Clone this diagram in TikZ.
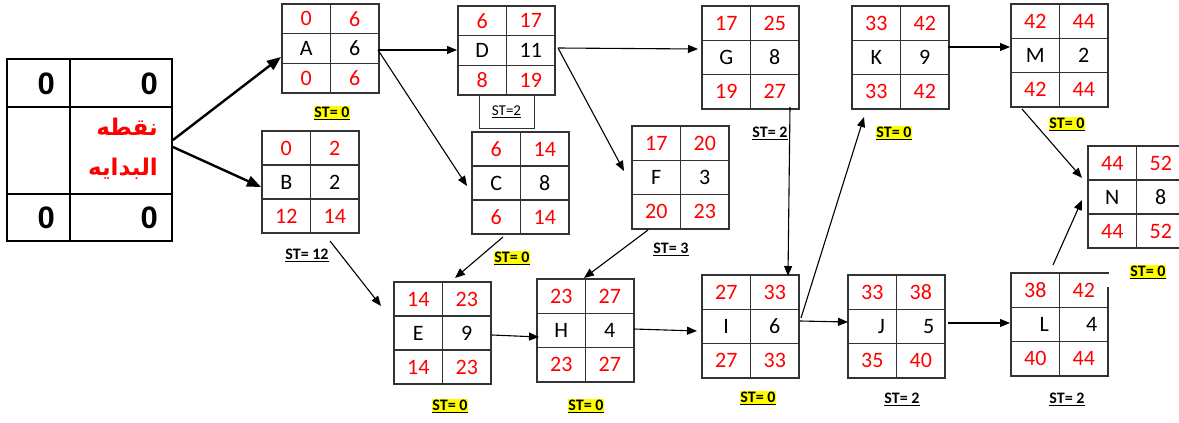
\documentclass[tikz,border=0pt]{standalone}
\usepackage{fontspec}
\setmainfont{Carlito}
\newfontfamily\arabicfont[Script=Arabic]{DejaVu Sans}
\newfontfamily\zerofont{Liberation Sans}
\TeXXeTstate=1
\usetikzlibrary{calc,arrows.meta}
\definecolor{hired}{RGB}{255,0,0}
\definecolor{hiyellow}{RGB}{255,255,0}
\tikzset{
  boxframe/.style={draw=black!80, line width=1.3pt, inner sep=0pt, outer sep=0pt, minimum width=97pt, anchor=north west},
  gridln/.style={draw=black!80, line width=1.2pt},
  num/.style={text=hired, font=\fontsize{22}{26}\selectfont, inner sep=0pt},
  lab/.style={text=black, font=\fontsize{22}{26}\selectfont, inner sep=0pt},
  conn/.style={draw=black, line width=1.1pt, -{Triangle[length=10pt,width=8pt]}},
  bigconn/.style={draw=black, line width=2.4pt, -{Triangle[length=14pt,width=11pt]}},
  stlab/.style={font=\bfseries\fontsize{16}{18}\selectfont, inner sep=0.6pt},
  sthi/.style={stlab, fill=hiyellow},
  zero/.style={font=\zerofont\bfseries\fontsize{31}{33}\selectfont, inner sep=0pt, anchor=east},
  arab/.style={font=\arabicfont\bfseries\fontsize{23}{26}\selectfont, text=hired, inner sep=0pt, anchor=east},
}
% #1 name, #2 top-left, #3 height, #4..#9 cell texts
\newcommand\abox[9]{%
  \node[boxframe, minimum height=#3pt] (#1) at (#2) {};
  \draw[gridln] (#1.north) -- (#1.south);
  \draw[gridln] ($(#1.north west)!1/3!(#1.south west)$) -- ($(#1.north east)!1/3!(#1.south east)$);
  \draw[gridln] ($(#1.north west)!2/3!(#1.south west)$) -- ($(#1.north east)!2/3!(#1.south east)$);
  \node[num] at ($(#1.north west)+(24.25,{#3/6})$) {#4};
  \node[num] at ($(#1.north west)+(72.75,{#3/6})$) {#5};
  \node[lab] at ($(#1.north west)+(24.25,{#3/2})$) {#6};
  \node[lab] at ($(#1.north west)+(72.75,{#3/2})$) {#7};
  \node[num] at ($(#1.north west)+(24.25,{5*#3/6})$) {#8};
  \node[num] at ($(#1.north west)+(72.75,{5*#3/6})$) {#9};
}
\begin{document}
\begin{tikzpicture}[x=1pt,y=-1pt]
\fill[white] (0,0) rectangle (1179,423);
\useasboundingbox (0,0) rectangle (1179,423);

% start node
\node[draw=black, line width=1.6pt, inner sep=0pt, outer sep=0pt, minimum width=165pt, minimum height=182pt, anchor=north west] (start) at (7,59) {};
\draw[line width=1.3pt] ($(start.north west)+(63,0)$) -- ($(start.south west)+(63,0)$);
\draw[line width=1.3pt] ($(start.north west)+(0,48)$) -- ($(start.north east)+(0,48)$);
\draw[line width=1.3pt] ($(start.north west)+(0,135)$) -- ($(start.north east)+(0,135)$);
\node[zero] (s1) at (55,84) {0};
\node[zero] (s2) at (158,84) {0};
\node[zero] (s3) at (55,218) {0};
\node[zero] (s4) at (158,218) {0};
\node[arab] (ar1) at (158,127) {\beginR نقطه\endR};
\node[arab] (ar2) at (158,169) {\beginR البدايه\endR};

% activity boxes
\abox{A}{282,4}{89}{0}{6}{A}{6}{0}{6}
\abox{D}{458,6}{89}{6}{17}{D}{11}{8}{19}
\abox{B}{262,131}{102}{0}{2}{B}{2}{12}{14}
\abox{C}{472,132}{102}{6}{14}{C}{8}{6}{14}
\abox{G}{702,6}{103}{17}{25}{G}{8}{19}{27}
\abox{K}{852,6}{103}{33}{42}{K}{9}{33}{42}
\abox{M}{1011,4}{103}{42}{44}{M}{2}{42}{44}
\abox{N}{1088,146}{102}{44}{52}{N}{8}{44}{52}
\abox{F}{632,126}{103}{17}{20}{F}{3}{20}{23}
\abox{E}{394,282}{102}{14}{23}{E}{9}{14}{23}
\abox{H}{537,279}{103}{23}{27}{H}{4}{23}{27}
\abox{I}{702,275}{103}{27}{33}{I}{6}{27}{33}
\abox{J}{848,275}{103}{33}{38}{\hspace{18pt}J}{\hspace{16pt}5}{35}{40}
\abox{L}{1011,273}{103}{38}{42}{\hspace{18pt}L}{\hspace{16pt}4}{40}{44}
\draw[white, line width=2.4pt] ($(L.north east)+(0,1.3)$) -- ($(L.north east)+(0,14)$);

% ST labels
\node[draw=black!80, line width=0.8pt, inner sep=0pt, outer sep=0pt, minimum width=55pt, minimum height=33pt, anchor=north west, font=\fontsize{15}{17}\selectfont] (stD) at (479,95) {\underline{ST=2}};
\node[sthi] (stA) at (332,113) {\underline{ST= 0}};
\node[stlab] (stB) at (307,255) {\underline{ST= 12}};
\node[sthi] (stC) at (512,258) {\underline{ST= 0}};
\node[stlab] (stF) at (671,249) {\underline{ST= 3}};
\node[stlab] (stG) at (770,133) {\underline{ST= 2}};
\node[sthi] (stK) at (894,133) {\underline{ST= 0}};
\node[sthi] (stM) at (1067,124) {\underline{ST= 0}};
\node[sthi] (stN) at (1148,272) {\underline{ST= 0}};
\node[sthi] (stE) at (450,406) {\underline{ST= 0}};
\node[sthi] (stH) at (586,406) {\underline{ST= 0}};
\node[sthi] (stI) at (758,398) {\underline{ST= 0}};
\node[stlab] (stJ) at (902,399) {\underline{ST= 2}};
\node[stlab] (stL) at (1067,399) {\underline{ST= 2}};

% connectors
\draw[bigconn] ($(start.north west)+(166,81)$) -- ($(A.north west)+(-1,53)$);
\draw[bigconn] ($(start.north west)+(166,88)$) -- ($(B.north west)+(-1,56)$);
\draw[conn] ($(A.north west)+(96,46)$) -- ($(D.north west)+(-1,44)$);
\draw[conn] ($(A.north west)+(96,46)$) -- ($(C.north west)+(-5,54)$);
\draw[conn] ($(D.north west)+(100,42)$) -- ($(G.north west)+(-4,43)$);
\draw[conn] ($(D.north west)+(100,42)$) -- ($(F.north west)+(-8,45)$);
\draw[conn] ($(B.north west)+(68,110)$) -- ($(E.north west)+(-13,24)$);
\draw[conn] ($(C.north west)+(31,105)$) -- ($(E.north west)+(61,-4)$);
\draw[conn] ($(E.north west)+(98,53)$) -- ($(H.north west)+(2,58)$);
\draw[conn] ($(F.north west)+(16,104)$) -- ($(H.north west)+(47,-1)$);
\draw[conn] ($(H.north west)+(97,50)$) -- ($(I.north west)+(-5,56)$);
\draw[conn] ($(G.north west)+(88,101)$) -- ($(I.north west)+(86,1)$);
\draw[conn] ($(I.north west)+(99,43)$) -- ($(K.north west)+(12,111)$);
\draw[conn] ($(I.north west)+(98,46)$) -- ($(J.north west)+(0,47)$);
\draw[conn] ($(J.north west)+(100,48)$) -- ($(L.north west)+(-1,50)$);
\draw[conn] ($(K.north west)+(96,41)$) -- ($(M.north west)+(-1,43)$);
\draw[conn] ($(M.north west)+(11,105)$) -- ($(N.north west)+(-6,32)$);
\draw[conn] ($(L.north west)+(42,-8)$) -- ($(N.north west)+(-6,54)$);
\end{tikzpicture}
\end{document}
